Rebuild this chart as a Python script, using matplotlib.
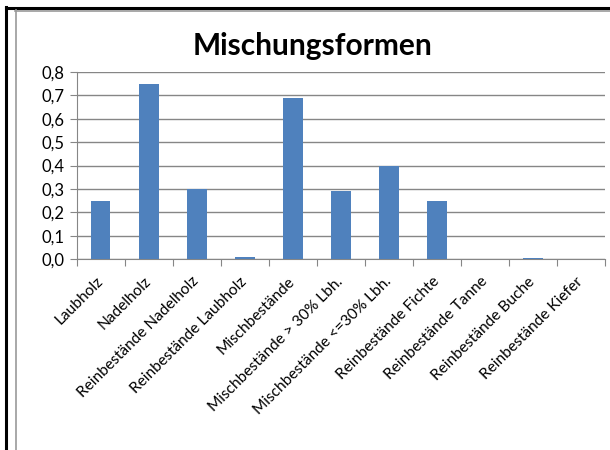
import matplotlib.pyplot as plt
from matplotlib.lines import Line2D
from matplotlib.ticker import FuncFormatter, MultipleLocator
from matplotlib.transforms import ScaledTranslation

plt.rcParams['font.family'] = ['Lato', 'DejaVu Sans']

kategorien = ['Laubholz', 'Nadelholz', 'Reinbestände Nadelholz', 'Reinbestände Laubholz',
              'Mischbestände', 'Mischbestände > 30% Lbh.', 'Mischbestände <=30% Lbh.',
              'Reinbestände Fichte', 'Reinbestände Tanne', 'Reinbestände Buche',
              'Reinbestände Kiefer']
werte = [0.25, 0.75, 0.30, 0.01, 0.69, 0.29, 0.40, 0.25, 0.0, 0.005, 0.0]

fig = plt.figure(figsize=(6.1, 4.5), dpi=100)
ax = fig.add_axes([0.126, 0.424, 0.866, 0.416])

x = list(range(len(kategorien)))
ax.bar(x, werte, width=0.4, color='#4F81BD', zorder=3)

ax.set_xlim(-0.5, len(kategorien) - 0.5)
ax.set_ylim(0, 0.8)
ax.yaxis.set_major_locator(MultipleLocator(0.1))
ax.yaxis.set_major_formatter(FuncFormatter(lambda v, p: f'{v:.1f}'.replace('.', ',')))
ax.grid(axis='y', color='#868686', linewidth=1, zorder=0)

# Tick-Striche an den Kategoriegrenzen, Beschriftung in der Mitte
ax.set_xticks([i - 0.5 for i in range(len(kategorien) + 1)])
ax.set_xticklabels([])
ax.set_xticks(x, minor=True)
ax.set_xticklabels(kategorien, minor=True, rotation=45, ha='right', va='top',
                   rotation_mode='anchor', fontsize=11.2)
ax.tick_params(axis='x', which='minor', length=0, pad=11)
ax.tick_params(axis='x', which='major', length=5, color='#868686')
ax.tick_params(axis='y', length=5, color='#868686', labelsize=12, pad=4)
verschiebung = ScaledTranslation(-5 / 100, 0, fig.dpi_scale_trans)
for lbl in ax.get_xticklabels(minor=True):
    lbl.set_transform(lbl.get_transform() + verschiebung)

for s in ['top', 'right']:
    ax.spines[s].set_visible(False)
ax.spines['left'].set_color('#868686')
ax.spines['bottom'].set_color('#868686')

fig.text(0.512, 0.897, 'Mischungsformen', ha='center', va='center',
         fontsize=21.5, fontweight='bold')

# Rahmen (Screenshot-Kanten)
fig.add_artist(Line2D([6 / 610, 6 / 610], [0, 1 - 7 / 450], color='black', lw=2.2))
fig.add_artist(Line2D([6 / 610, 1], [1 - 8 / 450, 1 - 8 / 450], color='black', lw=2.2))
fig.add_artist(Line2D([15.5 / 610, 15.5 / 610], [0, 1 - 10 / 450], color='#999999', lw=1.2))
fig.add_artist(Line2D([15 / 610, 1], [1 - 10.5 / 450, 1 - 10.5 / 450], color='#999999', lw=1.2))

fig.savefig('out.png', dpi=100)
